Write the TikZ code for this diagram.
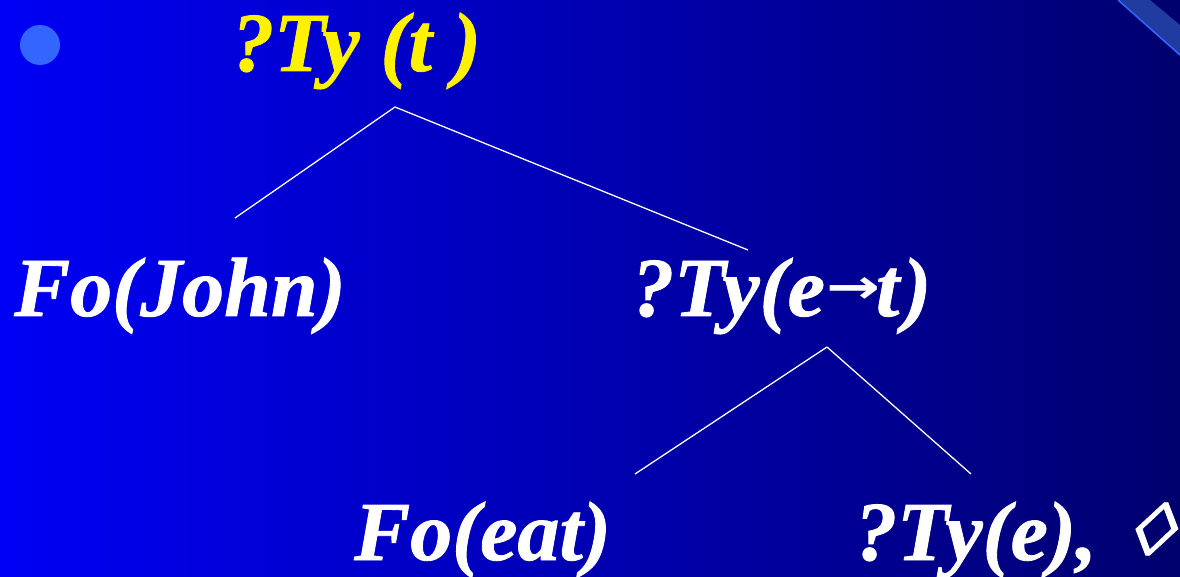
\documentclass[tikz,border=0pt]{standalone}
\usepackage{fontspec}
\setmainfont{Liberation Serif}
\newfontfamily\tyfont[FakeBold=1]{Liberation Serif Bold Italic}
\newfontfamily\arrowfont{DejaVu Sans Bold}
\definecolor{bgleft}{RGB}{0,0,245}
\definecolor{bgright}{RGB}{0,0,110}
\definecolor{bullet}{RGB}{51,102,255}
\definecolor{band}{RGB}{32,60,160}
\newcommand{\tyarrow}{\kern2pt\raisebox{13pt}{\resizebox{54pt}{26pt}{\arrowfont →}}\kern-5pt}
\begin{document}
\begin{tikzpicture}[x=1pt, y=-1pt,
        tylabel/.style={anchor=base west, inner sep=0pt, text=white,
          font=\tyfont\fontsize{84}{90}\selectfont},
        goal/.style={tylabel, text=yellow},
        ptrmark/.style={inner sep=0pt, text=white, transform shape,
          xslant=0.35, xscale=1.15, font=\tyfont\fontsize{75}{75}\selectfont},
        branch/.style={draw=white, line width=1.3pt}
      ]
      % background
      \shade[left color=bgleft, right color=bgright]
        (0,0) rectangle (1180,577);
      \useasboundingbox (0,0) rectangle (1180,577);
      \fill[band] (1118,0) -- (1150,0) -- (1180,25) -- (1180,55) -- cycle;
      \draw[line width=1.5pt, draw=bullet] (1118,0) -- (1180,55);
      \fill[bullet] (40,45) circle (20);
      % tree
      \node[goal] (root) at (232,71) {?Ty (t )};
      \node[tylabel] (john) at (14,316) {Fo(John)};
      \node[tylabel] (pred) at (632,316) {?Ty(e\tyarrow t\kern4pt)};
      \node[tylabel] (eat) at (354,560) {Fo(eat)};
      \node[tylabel] (obj) at (855,560) {?Ty(e),};
      \node[ptrmark] (ptr) at (1156,529) {◊};
      \coordinate (root-b) at (395,107);
      \coordinate (john-t) at (235,218);
      \coordinate (pred-t) at (748,250);
      \coordinate (pred-b) at (827,347);
      \coordinate (eat-t) at (635,474);
      \coordinate (obj-t) at (971,474);
      \foreach \a/\b in {root-b/john-t,root-b/pred-t,pred-b/eat-t,pred-b/obj-t}
      {\draw[branch] (\a) -- (\b);}
    \end{tikzpicture}
\end{document}
